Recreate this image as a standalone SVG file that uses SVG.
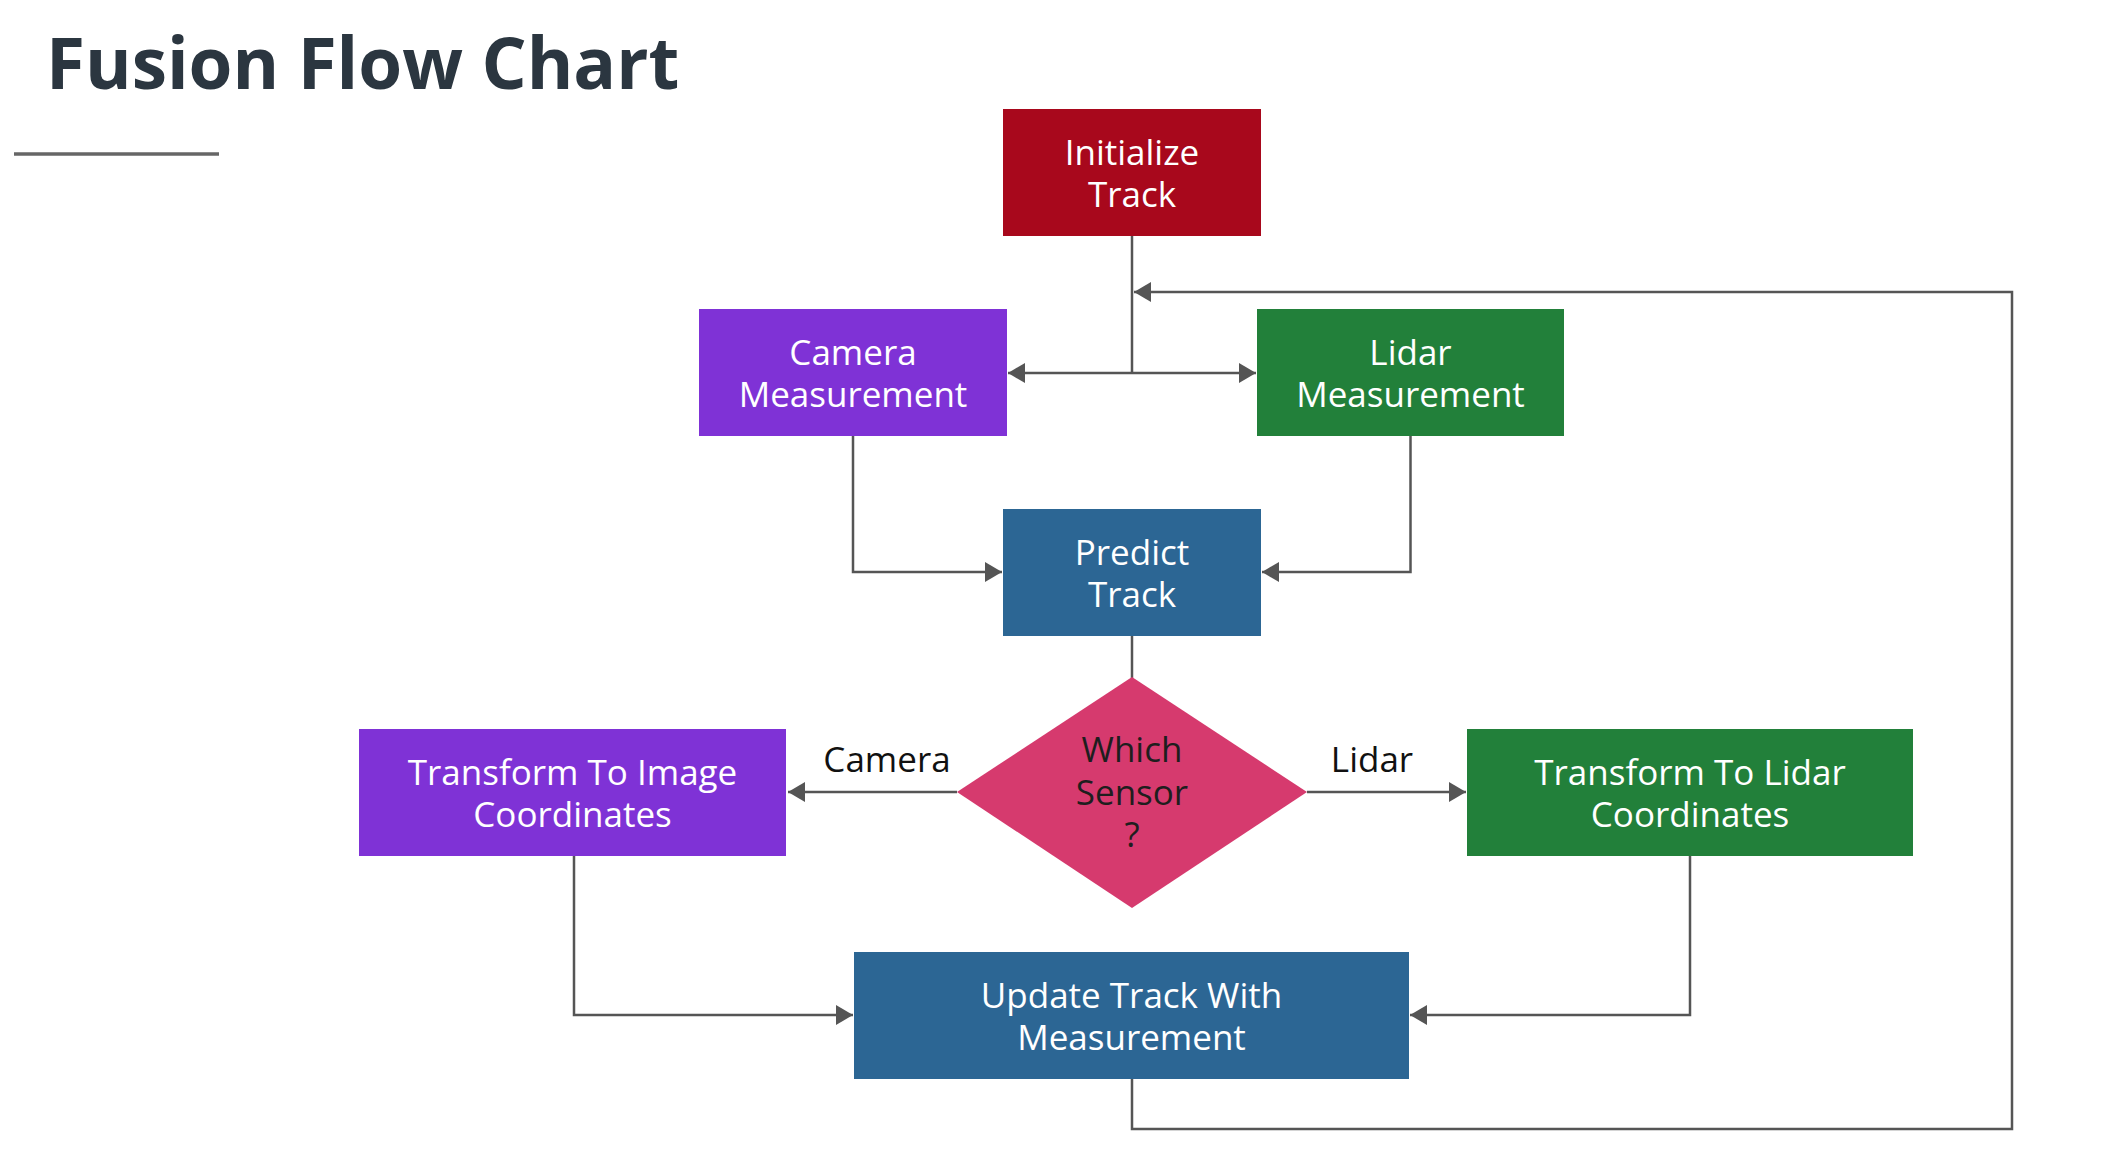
<svg xmlns="http://www.w3.org/2000/svg" width="2106" height="1168" viewBox="0 0 2106 1168">
  <style>
    .box text { font-family: "Open Sans", "Liberation Sans", sans-serif; font-size: 35px; fill: #ffffff; text-anchor: middle; }
    .dtext { font-family: "Open Sans", "Liberation Sans", sans-serif; font-size: 35px; fill: #1e1e1e; text-anchor: middle; }
    .lbl { font-family: "Open Sans", "Liberation Sans", sans-serif; font-size: 35px; fill: #111111; text-anchor: middle; }
    .conn { fill: none; stroke: #555555; stroke-width: 2.5; }
    .arr { marker-end: url(#ah); }
  </style>
  <defs>
    <marker id="ah" markerUnits="userSpaceOnUse" markerWidth="17" markerHeight="20" refX="17" refY="10" orient="auto">
      <path d="M0,0 L17,10 L0,20 Z" fill="#555555"/>
    </marker>
  </defs>
  <rect width="2106" height="1168" fill="#ffffff"/>

  <g id="title">
    <text x="46" y="89" font-family="'Open Sans', 'Liberation Sans', sans-serif" font-size="71" font-weight="bold" fill="#2b3640">Fusion Flow Chart</text>
    <line x1="14" y1="154" x2="219" y2="154" stroke="#666666" stroke-width="3.5"/>
  </g>

  <g id="connectors">
    <path class="conn" d="M1132,236 L1132,373"/>
    <path class="conn arr" d="M1132,373 L1008,373"/>
    <path class="conn arr" d="M1132,373 L1256,373"/>
    <path class="conn arr" d="M853,436 L853,572 L1002,572"/>
    <path class="conn arr" d="M1410.5,436 L1410.5,572 L1262,572"/>
    <path class="conn" d="M1132,636 L1132,678"/>
    <path class="conn arr" d="M957,792 L788,792"/>
    <path class="conn arr" d="M1307,792 L1466,792"/>
    <path class="conn arr" d="M574,856 L574,1015 L853,1015"/>
    <path class="conn arr" d="M1690,856 L1690,1015 L1410,1015"/>
    <path class="conn arr" d="M1132,1079 L1132,1129 L2012,1129 L2012,292 L1134,292"/>
    <text class="lbl" x="887" y="772">Camera</text>
    <text class="lbl" x="1372" y="772">Lidar</text>
  </g>

  <g id="initialize-track" class="box">
    <rect x="1003" y="109" width="258" height="127" fill="#a8081c"/>
    <text x="1132" y="164.5">Initialize<tspan x="1132" dy="42">Track</tspan></text>
  </g>

  <g id="camera-measurement" class="box">
    <rect x="699" y="309" width="308" height="127" fill="#7f32d6"/>
    <text x="853" y="364.5">Camera<tspan x="853" dy="42">Measurement</tspan></text>
  </g>

  <g id="lidar-measurement" class="box">
    <rect x="1257" y="309" width="307" height="127" fill="#22803a"/>
    <text x="1410.5" y="364.5">Lidar<tspan x="1410.5" dy="42">Measurement</tspan></text>
  </g>

  <g id="predict-track" class="box">
    <rect x="1003" y="509" width="258" height="127" fill="#2c6694"/>
    <text x="1132" y="564.5">Predict<tspan x="1132" dy="42">Track</tspan></text>
  </g>

  <g id="which-sensor">
    <polygon points="1132,677 1307,792 1132,908 957,792" fill="#d63a6e"/>
    <text class="dtext" x="1132" y="762">Which<tspan x="1132" dy="43">Sensor</tspan><tspan x="1132" dy="42">?</tspan></text>
  </g>

  <g id="transform-image" class="box">
    <rect x="359" y="729" width="427" height="127" fill="#7f32d6"/>
    <text x="572.5" y="784.5">Transform To Image<tspan x="572.5" dy="42">Coordinates</tspan></text>
  </g>

  <g id="transform-lidar" class="box">
    <rect x="1467" y="729" width="446" height="127" fill="#22803a"/>
    <text x="1690" y="784.5">Transform To Lidar<tspan x="1690" dy="42">Coordinates</tspan></text>
  </g>

  <g id="update-track" class="box">
    <rect x="854" y="952" width="555" height="127" fill="#2c6694"/>
    <text x="1131.5" y="1007.5">Update Track With<tspan x="1131.5" dy="42">Measurement</tspan></text>
  </g>
</svg>
